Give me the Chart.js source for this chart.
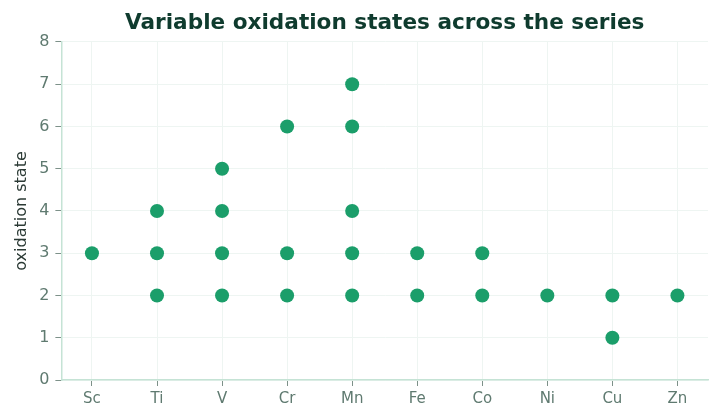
<!DOCTYPE html>
<html>
<head>
<meta charset="utf-8">
<script src="https://cdn.jsdelivr.net/npm/chart.js@4"></script>
<style>
  html, body { margin: 0; padding: 0; background: #ffffff; }
  #wrap { width: 720px; height: 420px; }
</style>
</head>
<body>
<div id="wrap"><canvas id="myChart"></canvas></div>
<script>
// Datos del gráfico
const elementos = ['Sc', 'Ti', 'V', 'Cr', 'Mn', 'Fe', 'Co', 'Ni', 'Cu', 'Zn'];
const estadosSc = [3];
const estadosTi = [2, 3, 4];
const estadosV = [2, 3, 4, 5];
const estadosCr = [2, 3, 6];
const estadosMn = [2, 3, 4, 6, 7];
const estadosFe = [2, 3];
const estadosCo = [2, 3];
const estadosNi = [2];
const estadosCu = [1, 2];
const estadosZn = [2];
const yTicks = [0, 1, 2, 3, 4, 5, 6, 7, 8];

const estados = [estadosSc, estadosTi, estadosV, estadosCr, estadosMn,
                 estadosFe, estadosCo, estadosNi, estadosCu, estadosZn];

// Convertimos a puntos {x: índice del elemento, y}
const puntos = [];
elementos.forEach((el, i) => {
    estados[i].forEach(y => puntos.push({ x: i, y }));
});

const canvas = document.querySelector('#myChart');
const myChart = new Chart(canvas, {
    type: 'scatter',
    data: {
        datasets: [{
            label: 'oxidation state',
            data: puntos,
            backgroundColor: '#1b9e6a',
            borderWidth: 0,
            pointRadius: 7,
            pointHoverRadius: 7
        }]
    },
    options: {
        responsive: true,
        maintainAspectRatio: false,
        animation: false,
        layout: { padding: { top: 2, right: 12, left: 8, bottom: 8 } },
        plugins: {
            legend: { display: false },
            tooltip: { enabled: false },
            title: {
                display: true,
                fullSize: false,
                text: 'Variable oxidation states across the series',
                color: '#0f3b2e',
                font: { family: 'DejaVu Sans', size: 21.6, weight: 'bold' },
                padding: { top: 8, bottom: 6 }
            }
        },
        scales: {
            x: {
                type: 'linear',
                min: -0.47,
                max: elementos.length - 1 + 0.47,
                afterBuildTicks: axis => { axis.ticks = elementos.map((e, i) => ({ value: i })); },
                grid: {
                    color: '#eef5f2',
                    tickColor: '#7d9189',
                    tickLength: 6
                },
                border: { color: '#c5e3d5', width: 1.5 },
                ticks: {
                    color: '#5f7a70',
                    font: { family: 'DejaVu Sans', size: 15 },
                    padding: 4,
                    callback: v => elementos[v]
                }
            },
            y: {
                min: 0,
                max: 8,
                afterBuildTicks: axis => { axis.ticks = yTicks.map(v => ({ value: v })); },
                grid: {
                    color: '#eef5f2',
                    tickColor: '#7d9189',
                    tickLength: 6
                },
                border: { color: '#c5e3d5', width: 1.5 },
                ticks: {
                    color: '#5f7a70',
                    font: { family: 'DejaVu Sans', size: 16 },
                    padding: 6
                },
                title: {
                    display: true,
                    text: 'oxidation state',
                    color: '#2b3a35',
                    font: { family: 'DejaVu Sans', size: 16 },
                    padding: { bottom: 2 }
                }
            }
        }
    }
});
</script>
</body>
</html>
